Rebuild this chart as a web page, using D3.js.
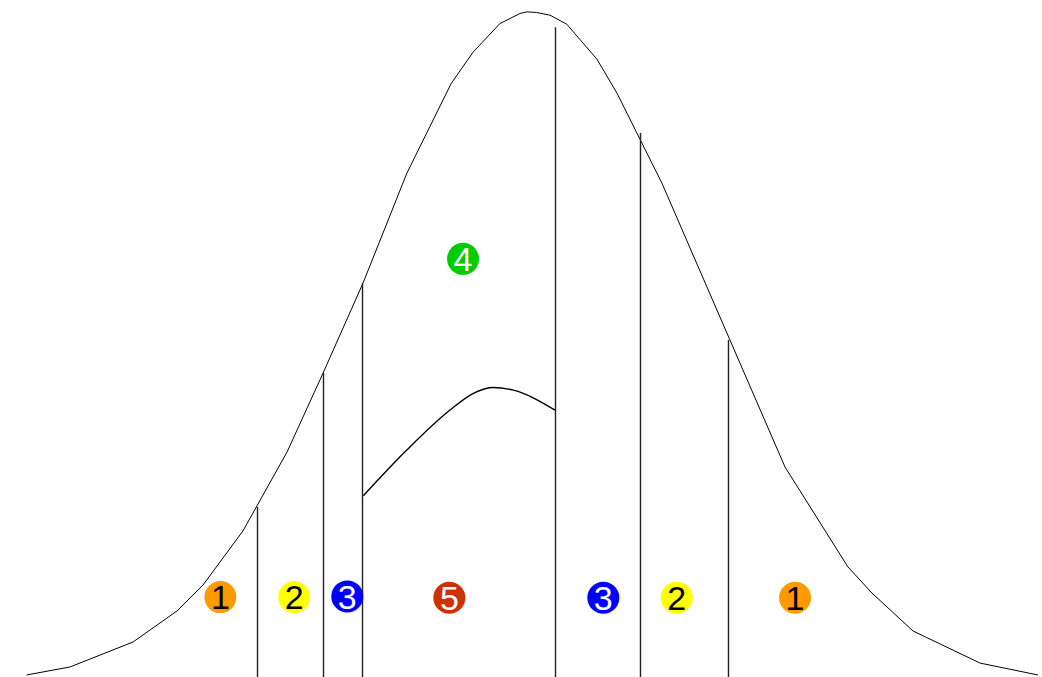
<!DOCTYPE html>
<html>
<head>
<meta charset="utf-8">
<script src="https://cdn.jsdelivr.net/npm/d3@7"></script>
<style>
  body { margin: 0; background: #fff; }
  svg { display: block; }
</style>
</head>
<body>
<div id="chart"></div>
<script>
// size
var w = 1042;
var h = 677;

// outer bell curve (z, density)
var curveZ = [-3.026, -2.766, -2.389, -2.126, -1.970, -1.731, -1.467, -1.251, -1.012,
              -0.749, -0.484, -0.353, -0.192, -0.072, -0.030, 0.028, 0.108, 0.208,
              0.389, 0.509, 0.778, 1.515, 1.892, 2.036, 2.281, 2.683, 3.030];
var curveD = [0.0030, 0.0078, 0.0227, 0.0412, 0.0567, 0.0890, 0.1361, 0.1833, 0.2370,
              0.3027, 0.3562, 0.3749, 0.3920, 0.3980, 0.3990, 0.3986, 0.3970, 0.3916,
              0.3707, 0.3504, 0.2967, 0.1272, 0.0675, 0.0519, 0.0293, 0.0101, 0.0030];

// inner curve between the two cut lines
var innerZ = [-1.010, -0.750, -0.491, -0.351, -0.232, -0.112, 0.138];
var innerD = [0.1100, 0.1373, 0.1612, 0.1712, 0.1747, 0.1731, 0.1612];

// vertical cut lines
var cutZ = [-1.647, -1.251, -1.015, 0.138, 0.644, 1.171];
var cutD = [0.1033, 0.1833, 0.2370, 0.3898, 0.3266, 0.2030];

// numbered markers
var markLabel = ["1", "2", "3", "5", "4", "3", "2", "1"];
var markZ     = [-1.866, -1.424, -1.106, -0.495, -0.413, 0.427, 0.867, 1.575];
var markD     = [0.0495, 0.0495, 0.0499, 0.0491, 0.2515, 0.0491, 0.0491, 0.0491];

var colorOf = { "1": "#ff9900", "2": "#ffff00", "3": "#0000ff", "4": "#00cc00", "5": "#cc3300" };
var textOf  = { "1": "#000", "2": "#000", "3": "#fff", "4": "#fff", "5": "#fff" };

// scales
var x = d3.scaleLinear().domain([-3, 3]).range([31, 1033]);
var y = d3.scaleLinear().domain([0, 0.3989]).range([680, 12]);

var svg = d3.select("#chart")
          .append("svg")
          .attr("width", w)
          .attr("height", h);

var line = d3.line()
    .x(function(d){ return x(d[0]); })
    .y(function(d){ return y(d[1]); });

// outer curve
svg.append("path")
    .datum(d3.zip(curveZ, curveD))
    .attr("d", line)
    .attr("fill", "none")
    .attr("stroke", "#000")
    .attr("stroke-width", 1);

// inner curve
svg.append("path")
    .datum(d3.zip(innerZ, innerD))
    .attr("d", line.curve(d3.curveMonotoneX))
    .attr("fill", "none")
    .attr("stroke", "#000")
    .attr("stroke-width", 1.4);

// cut lines
svg.selectAll("line.cut")
    .data(d3.zip(cutZ, cutD))
    .enter()
    .append("line")
    .attr("class", "cut")
    .attr("x1", function(d){ return Math.round(x(d[0])) + 0.5; })
    .attr("x2", function(d){ return Math.round(x(d[0])) + 0.5; })
    .attr("y1", function(d){ return y(d[1]); })
    .attr("y2", y(0))
    .attr("stroke", "#222")
    .attr("stroke-width", 1.4);

// markers
var marks = svg.selectAll("g.mark")
    .data(d3.zip(markLabel, markZ, markD))
    .enter()
    .append("g")
    .attr("class", "mark")
    .attr("transform", function(d){ return "translate(" + x(d[1]) + "," + y(d[2]) + ")"; });

marks.append("circle")
    .attr("r", 16)
    .attr("fill", function(d){ return colorOf[d[0]]; });

marks.append("text")
    .attr("text-anchor", "middle")
    .attr("dy", "0.36em")
    .attr("font-family", "'Liberation Sans', Arial, sans-serif")
    .attr("font-size", 34)
    .attr("fill", function(d){ return textOf[d[0]]; })
    .text(function(d){ return d[0]; });
</script>
</body>
</html>
